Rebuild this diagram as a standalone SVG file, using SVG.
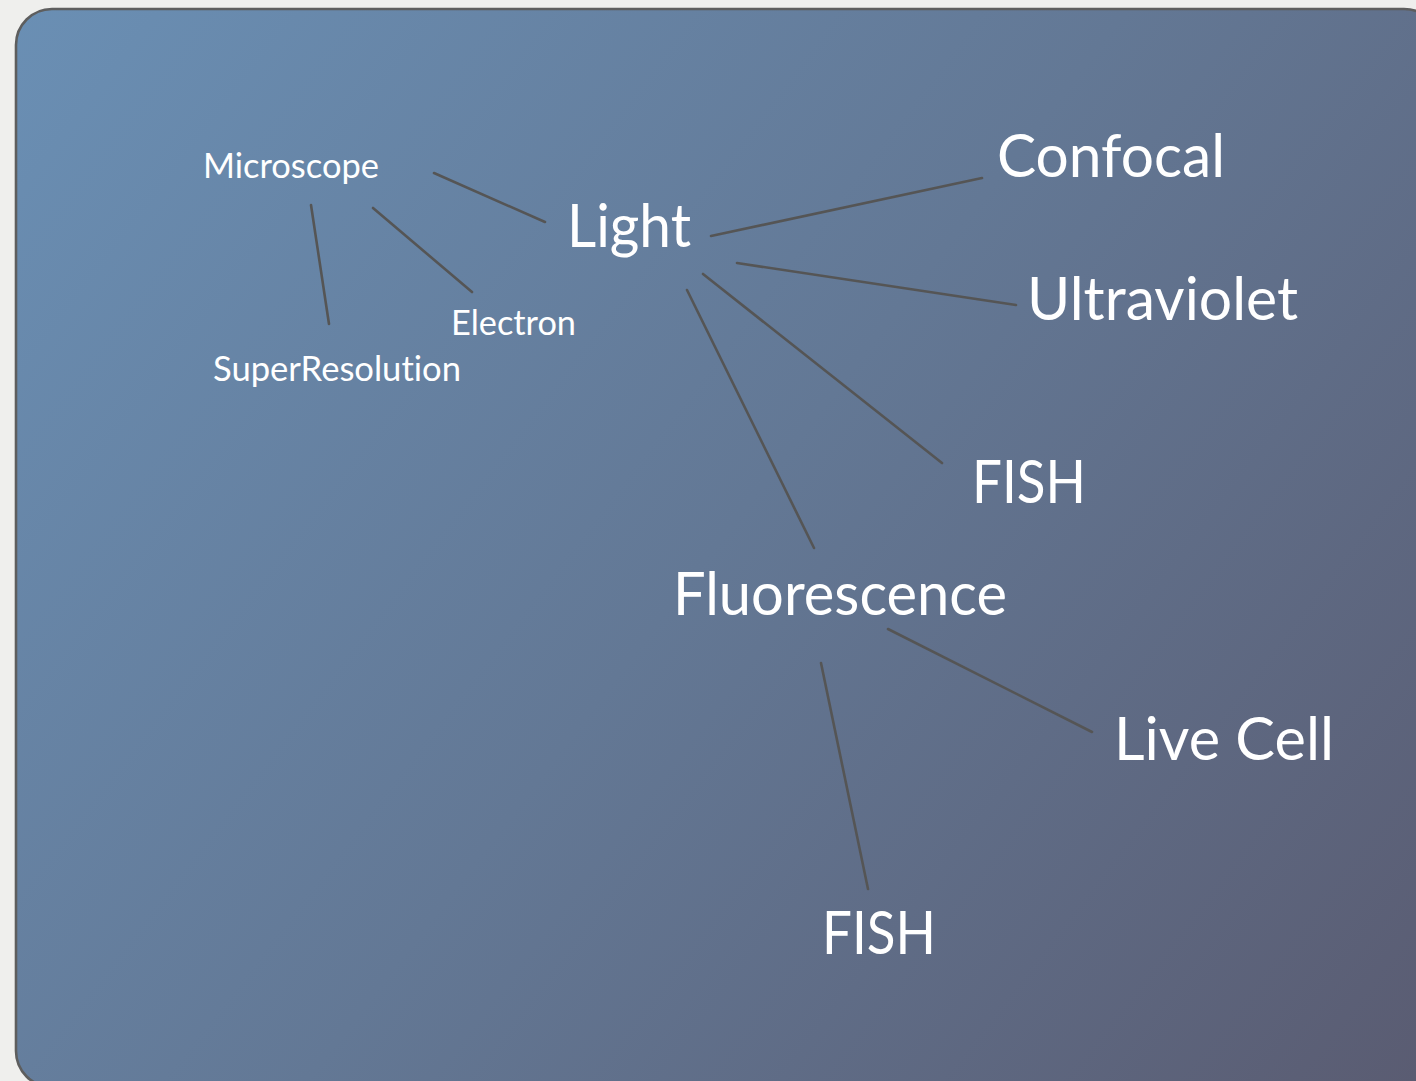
<svg xmlns="http://www.w3.org/2000/svg" width="1416" height="1081" viewBox="0 0 1416 1081">
  <defs>
    <linearGradient id="bg" gradientUnits="userSpaceOnUse" x1="16" y1="9" x2="1416" y2="1081">
      <stop offset="0" stop-color="#6a8fb4"/>
      <stop offset="0.5" stop-color="#637895"/>
      <stop offset="1" stop-color="#5a5c72"/>
    </linearGradient>
    <style>
      .lbl { font-family: Lato, "Open Sans", "Liberation Sans", sans-serif; fill: #ffffff; font-variant-ligatures: none; font-feature-settings: "liga" 0, "clig" 0, "dlig" 0; }
      .sm { font-size: 35px; }
      .lg { font-size: 60px; }
      .edge { stroke: #555555; stroke-width: 2.6; stroke-linecap: round; fill: none; }
    </style>
  </defs>
  <rect x="0" y="0" width="1416" height="1081" fill="#efefed"/>
  <rect x="16" y="9" width="1424" height="1078" rx="36" ry="36" fill="url(#bg)" stroke="#5e5e5e" stroke-width="2.6"/>

  <g id="connectors">
    <line class="edge" x1="434" y1="173" x2="545" y2="222"/>
    <line class="edge" x1="311" y1="205" x2="329" y2="324"/>
    <line class="edge" x1="373" y1="208" x2="472" y2="292"/>
    <line class="edge" x1="711" y1="236" x2="982" y2="178"/>
    <line class="edge" x1="737" y1="263" x2="1016" y2="305"/>
    <line class="edge" x1="703" y1="274" x2="942" y2="463"/>
    <line class="edge" x1="687" y1="290" x2="814" y2="548"/>
    <line class="edge" x1="888" y1="629" x2="1092" y2="732"/>
    <line class="edge" x1="821" y1="663" x2="868" y2="889"/>
  </g>

  <g id="node-microscope"><text class="lbl sm" x="203" y="178" textLength="176" lengthAdjust="spacingAndGlyphs">Microscope</text></g>
  <g id="node-electron"><text class="lbl sm" x="451" y="335" textLength="125" lengthAdjust="spacingAndGlyphs">Electron</text></g>
  <g id="node-superresolution"><text class="lbl sm" x="213" y="381" textLength="248" lengthAdjust="spacingAndGlyphs">SuperResolution</text></g>
  <g id="node-light"><text class="lbl lg" x="567" y="247" textLength="124" lengthAdjust="spacingAndGlyphs">Light</text></g>
  <g id="node-confocal"><text class="lbl lg" x="997" y="177" textLength="228" lengthAdjust="spacingAndGlyphs">Confocal</text></g>
  <g id="node-ultraviolet"><text class="lbl lg" x="1027" y="320" textLength="271" lengthAdjust="spacingAndGlyphs">Ultraviolet</text></g>
  <g id="node-fish-1"><text class="lbl lg" x="972" y="503" textLength="114" lengthAdjust="spacingAndGlyphs">FISH</text></g>
  <g id="node-fluorescence"><text class="lbl lg" x="673" y="615" textLength="334" lengthAdjust="spacingAndGlyphs">Fluorescence</text></g>
  <g id="node-livecell"><text class="lbl lg" x="1114" y="760" textLength="220" lengthAdjust="spacingAndGlyphs">Live Cell</text></g>
  <g id="node-fish-2"><text class="lbl lg" x="822" y="954" textLength="114" lengthAdjust="spacingAndGlyphs">FISH</text></g>
</svg>
